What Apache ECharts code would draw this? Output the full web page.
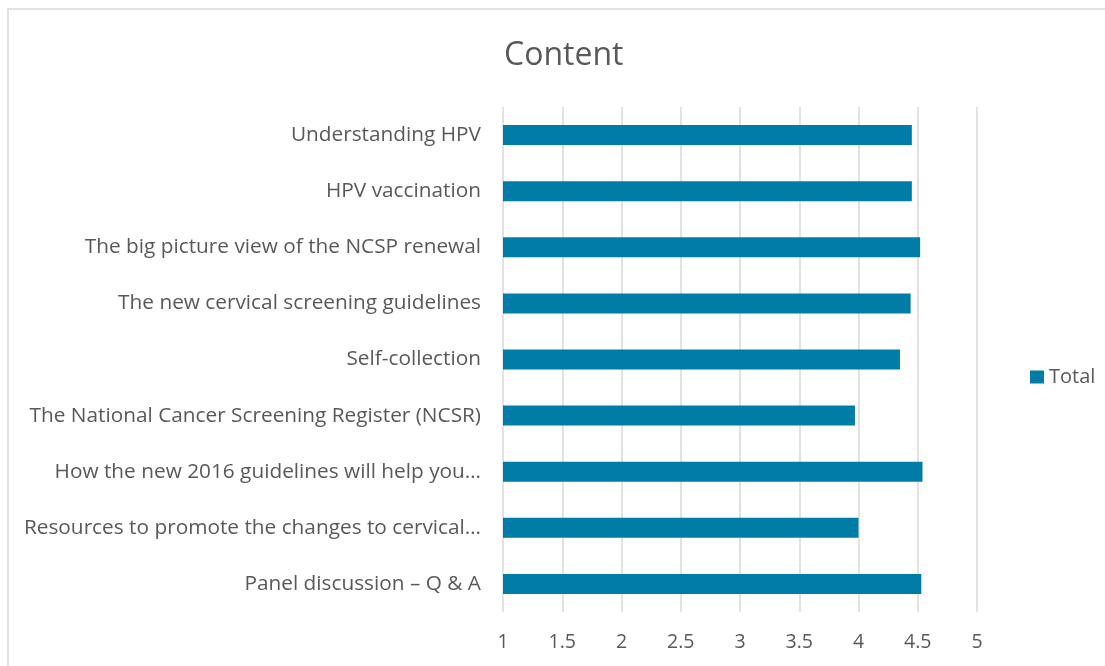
<!DOCTYPE html>
<html>
<head>
<meta charset="utf-8">
<script src="https://cdn.jsdelivr.net/npm/echarts@6/dist/echarts.min.js"></script>
<style>
html,body{margin:0;padding:0;background:#fff;}
#chart{width:1105px;height:666px;}
</style>
</head>
<body>
<div id="chart"></div>
<script>
var categories = [
  "Understanding HPV",
  "HPV vaccination",
  "The big picture view of the NCSP renewal",
  "The new cervical screening guidelines",
  "Self-collection",
  "The National Cancer Screening Register (NCSR)",
  "How the new 2016 guidelines will help you\u2026",
  "Resources to promote the changes to cervical\u2026",
  "Panel discussion \u2013 Q & A"
];
var totalValues = [4.45, 4.45, 4.52, 4.44, 4.35, 3.97, 4.54, 4.00, 4.53];
var seriesName = "Total";
var titleText = "Content";

var FONT = "Open Sans";
var chart = echarts.init(document.getElementById('chart'));
chart.setOption({
  backgroundColor: '#ffffff',
  animation: false,
  graphic: [{
    type: 'rect',
    shape: {x: 8, y: 9, width: 1200, height: 800},
    style: {fill: 'none', stroke: '#d9d9d9', lineWidth: 1.5},
    silent: true
  }],
  title: {
    text: titleText,
    left: 499,
    top: 35,
    textStyle: {fontFamily: FONT, fontSize: 32, fontWeight: 'normal', color: '#595959'}
  },
  legend: {
    data: [seriesName],
    orient: 'vertical',
    left: 1025,
    top: 362,
    itemWidth: 14,
    itemHeight: 13,
    itemGap: 5,
    icon: 'rect',
    textStyle: {fontFamily: FONT, fontSize: 20, color: '#595959', padding: [0,0,0,0]}
  },
  grid: {left: 503, right: 128, top: 107, bottom: 54, containLabel: false},
  xAxis: {
    type: 'value',
    min: 1, max: 5, interval: 0.5,
    axisLine: {show: false},
    axisTick: {show: false},
    splitLine: {show: true, lineStyle: {color: '#d9d9d9', width: 1.5}},
    axisLabel: {fontFamily: FONT, fontSize: 19.5, color: '#595959', margin: 20}
  },
  yAxis: {
    type: 'category',
    data: categories,
    inverse: true,
    axisLine: {show: false},
    axisTick: {show: false},
    splitLine: {show: false},
    axisLabel: {fontFamily: FONT, fontSize: 20.8, color: '#595959', margin: 22}
  },
  series: [{
    name: seriesName,
    type: 'bar',
    data: totalValues,
    barWidth: 20,
    itemStyle: {color: '#007ca6'}
  }]
});
</script>
</body>
</html>
